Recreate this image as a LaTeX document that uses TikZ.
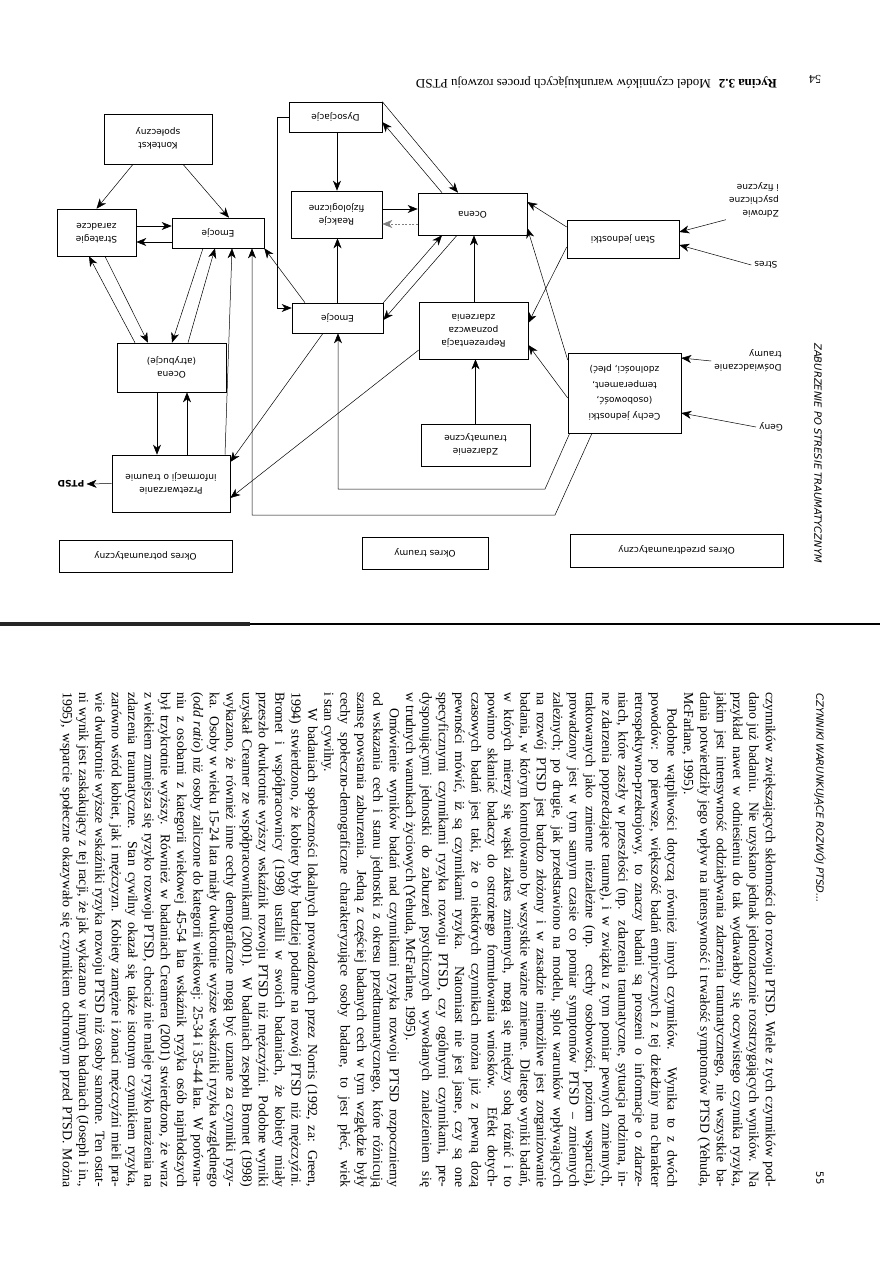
\documentclass[tikz,border=0pt]{standalone}
\usepackage{fontspec}
\setmainfont{Liberation Serif}
\setsansfont{DejaVu Sans}
\usepackage{graphicx}
\usetikzlibrary{arrows.meta}
\newcommand\udc[1]{\rotatebox{180}{\begin{tabular}{@{}c@{}}#1\end{tabular}}}
\newcommand\udl[1]{\rotatebox{180}{\begin{tabular}{@{}l@{}}#1\end{tabular}}}
\tikzset{
  box/.style={draw=black, line width=0.6pt, rectangle, inner sep=0pt,
    font=\sffamily\fontsize{9}{13}\selectfont},
  lbl/.style={inner sep=0pt, font=\sffamily\fontsize{9}{13}\selectfont},
  conn/.style={line width=0.5pt, -{Stealth[length=10pt,width=8pt,inset=3pt]}},
  hdr/.style={rotate=-90, anchor=west, inner sep=0pt, font=\sffamily\itshape\fontsize{10}{12}\selectfont},
}
\begin{document}
\begin{tikzpicture}[x=1pt,y=-1pt]
\fill[white] (0,0) rectangle (893,1263);
\useasboundingbox (0,0) rectangle (893,1263);

% ---------- page 54 (figure, upside down) ----------
\node[rotate=180, anchor=west, inner sep=0pt, font=\fontsize{13}{15}\selectfont] (capt) at (777,83)
  {\textbf{Rycina 3.2}\hspace{0.6em}Model czynników warunkujących proces rozwoju PTSD};
\node[rotate=180, inner sep=0pt, font=\fontsize{12}{14}\selectfont] (pg54) at (815,79) {54};
\node[hdr] (hdrL) at (818,343) {ZABURZENIE PO STRESIE TRAUMATYCZNYM};

\node[box, minimum width=108pt, minimum height=50pt] (kont) at (158,139) {\udc{Kontekst\\społeczny}};
\node[box, minimum width=79pt, minimum height=47pt] (strat) at (96.5,232.5) {\udc{Strategie\\zaradcze}};
\node[box, minimum width=92pt, minimum height=30pt] (emoL) at (218,233) {\udc{Emocje}};
\node[box, minimum width=109pt, minimum height=49pt] (ocA) at (171.5,367.5) {\udc{Ocena\\(atrybucje)}};
\node[box, minimum width=118pt, minimum height=57pt] (przet) at (171,483.5) {\udc{Przetwarzanie\\informacji o traumie}};
\node[inner sep=0pt, font=\sffamily\bfseries\fontsize{9}{11}\selectfont] (ptsd) at (71,484) {\rotatebox{180}{PTSD}};
\node[box, minimum width=173pt, minimum height=32pt] (okPo) at (145.5,556) {\udc{Okres potraumatyczny}};
\node[box, minimum width=126pt, minimum height=32pt] (okTr) at (425,553) {\udc{Okres traumy}};
\node[box, minimum width=213pt, minimum height=33pt] (okPrz) at (676.5,550.5) {\udc{Okres przedtraumatyczny}};
\node[box, minimum width=93pt, minimum height=30pt] (dys) at (335.5,117) {\udc{Dysocjacje}};
\node[box, minimum width=91pt, minimum height=47pt] (reak) at (336.5,214.5) {\udc{Reakcje\\fizjologiczne}};
\node[box, minimum width=91pt, minimum height=30pt] (emoM) at (337.5,318) {\udc{Emocje}};
\node[box, minimum width=109pt, minimum height=42pt] (ocM) at (472.5,214) {\udc{Ocena}};
\node[box, minimum width=112pt, minimum height=38pt] (stan) at (623,239) {\udc{Stan jednostki}};
\node[box, minimum width=109pt, minimum height=57pt] (repr) at (473.5,330.5) {\udc{Reprezentacja\\poznawcza\\zdarzenia}};
\node[box, minimum width=113pt, minimum height=80pt, font=\sffamily\fontsize{9}{15.5}\selectfont] (cechy) at (624.5,393)
  {\udc{Cechy jednostki\\(osobowość,\\temperament,\\zdolności, płeć)}};
\node[box, minimum width=109pt, minimum height=42pt] (zdarz) at (475.5,445) {\udc{Zdarzenie\\traumatyczne}};
\node[lbl] (zdrow) at (754,200) {\udl{Zdrowie\\psychiczne\\i fizyczne}};
\node[lbl] (stres) at (766,265) {\rotatebox{180}{Stres}};
\node[lbl] (dosw) at (748,361) {\udl{Doświadczanie\\traumy}};
\node[lbl] (geny) at (771,427) {\rotatebox{180}{Geny}};

\draw[conn] ([xshift=-25pt]kont.south) -- (strat.north);
\draw[conn] ([xshift=25pt]kont.south) -- ([xshift=11pt]emoL.north);
\draw[conn] ([yshift=6.5pt]strat.east) -- ([yshift=7pt]emoL.west);
\draw[conn] ([yshift=-9pt]emoL.west) -- ([yshift=-9.5pt]strat.east);
\draw[conn] ([xshift=-36.5pt]ocA.north) -- ([xshift=-7.5pt]strat.south);
\draw[conn] ([xshift=8.5pt]strat.south) -- ([xshift=-23.5pt]ocA.north);
\draw[conn] ([xshift=-15pt]emoL.south) -- ([xshift=0.5pt]ocA.north);
\draw[conn] ([xshift=16.5pt]ocA.north) -- ([xshift=-3pt]emoL.south);
\draw[conn] ([xshift=54pt]przet.north) -- ([xshift=14pt]emoL.south);
\coordinate (la) at (555,515); \coordinate (lb) at (252,515);
\draw[conn] ([xshift=-32.5pt]cechy.south) -- (la) -- (lb) -- ([xshift=34pt]emoL.south);
\coordinate (lc) at (545,489); \coordinate (ld) at (338,489);
\draw[conn] ([xshift=2pt]cechy.south west) -- (lc) -- (ld) -- ([xshift=0.5pt]emoM.south);
\draw[conn] ([xshift=-32.5pt]emoM.north) -- (emoL.south east);
\coordinate (da) at (277,117); \coordinate (db) at (277,308);
\draw[conn] (dys.west) -- (da) -- (db) -- ([yshift=10pt]emoM.west);
\draw[conn] ([xshift=1.5pt]dys.south) -- ([xshift=0.5pt]reak.north);
\draw[conn] (emoM.north) -- ([xshift=1pt]reak.south);
\draw[conn] ([xshift=-14.5pt]emoM.south) -- ([yshift=21.5pt]przet.east);
\draw[conn] ([yshift=-19.5pt]repr.west) -- ([yshift=-14.5pt]przet.east);
\draw[conn] (zdarz.north) -- ([xshift=2pt]repr.south);
\draw[conn] ([xshift=0.5pt]repr.north) -- ([xshift=1.5pt]ocM.south);
\draw[conn] ([yshift=5.5pt]reak.east) -- ([yshift=5pt]ocM.west);
\draw[conn, gray, dash pattern=on 2pt off 1.5pt] ([yshift=-10pt]ocM.west) -- ([yshift=-9.5pt]reak.east);
\draw[conn] (dys.north east) -- ([xshift=-14.5pt]ocM.north);
\draw[conn] ([xshift=-30.5pt]ocM.north) -- ([yshift=-5pt]dys.east);
\draw[conn] (emoM.north east) -- ([xshift=-30.5pt]ocM.south);
\draw[conn] ([xshift=-15.5pt]ocM.south) -- ([yshift=-2pt]emoM.east);
\draw[conn] ([yshift=12pt]stan.west) -- ([yshift=12pt]ocM.east);
\draw[conn] ([yshift=-8pt]stan.west) -- ([yshift=7.5pt]repr.east);
\draw[conn] ([xshift=-3pt]zdrow.south west) -- ([yshift=7pt]stan.east);
\draw[conn] ([xshift=-3pt]stres.west) -- ([yshift=-6pt]stan.east);
\draw[conn] ([yshift=33pt]cechy.west) -- ([yshift=-14pt]ocM.east);
\draw[conn] ([yshift=-5pt]cechy.west) -- ([yshift=-14.5pt]repr.east);
\draw[conn] ([xshift=-3pt]dosw.west) -- ([yshift=35pt]cechy.east);
\draw[conn] ([xshift=-3pt]geny.west) -- ([yshift=-20pt]cechy.east);
\draw[conn] (przet.west) -- ([xshift=2pt]ptsd.east);
\draw[conn] ([xshift=-14.5pt]ocA.south) -- ([xshift=-14pt]przet.north);
\draw[conn] ([xshift=16pt]przet.north) -- ([xshift=15.5pt]ocA.south);

% ---------- gutter ----------
\fill[black!85] (0,621.5) rectangle (250,625.5);
\fill[black] (250,622.5) rectangle (880,625);

% ---------- page 55 (text, rotated) ----------
\node[hdr] (hdrR) at (820,693) {CZYNNIKI WARUNKUJĄCE ROZWÓJ PTSD...};
\node[rotate=-90, inner sep=0pt, font=\sffamily\fontsize{10}{12}\selectfont] (pg55) at (820,1178) {55};
\node[rotate=-90, anchor=north west, inner sep=0pt, font=\fontsize{13.8}{16.4}\selectfont] (body) at (776,692) {\vbox{\hsize=495pt\baselineskip=16.35pt\lineskiplimit=-20pt\lineskip=0pt
\spaceskip=0.25em plus 0.35em minus 0.13em
\hbox to 495pt{\rule{0pt}{10pt}czynników zwiększających skłonności do rozwoju PTSD. Wiele z tych czynników pod-}
\hbox to 495pt{dano już badaniu. Nie uzyskano jednak jednoznacznie rozstrzygających wyników. Na}
\hbox to 495pt{przykład nawet w odniesieniu do tak wydawałoby się oczywistego czynnika ryzyka,}
\hbox to 495pt{jakim jest intensywność oddziaływania zdarzenia traumatycznego, nie wszystkie ba-}
\hbox to 495pt{dania potwierdziły jego wpływ na intensywność i trwałość symptomów PTSD (Yehuda,}
\hbox{McFarlane, 1995).}
\hbox to 495pt{\hskip 16pt Podobne wątpliwości dotyczą również innych czynników. Wynika to z dwóch}
\hbox to 495pt{powodów: po pierwsze, większość badań empirycznych z tej dziedziny ma charakter}
\hbox to 495pt{retrospektywno-przekrojowy, to znaczy badani są proszeni o informacje o zdarze-}
\hbox to 495pt{niach, które zaszły w przeszłości (np. zdarzenia traumatyczne, sytuacja rodzinna, in-}
\hbox to 495pt{ne zdarzenia poprzedzające traumę), i w związku z tym pomiar pewnych zmiennych,}
\hbox to 495pt{traktowanych jako zmienne niezależne (np. cechy osobowości, poziom wsparcia),}
\hbox to 495pt{prowadzony jest w tym samym czasie co pomiar symptomów PTSD – zmiennych}
\hbox to 495pt{zależnych; po drugie, jak przedstawiono na modelu, splot warunków wpływających}
\hbox to 495pt{na rozwój PTSD jest bardzo złożony i w zasadzie niemożliwe jest zorganizowanie}
\hbox to 495pt{badania, w którym kontrolowano by wszystkie ważne zmienne. Dlatego wyniki badań,}
\hbox to 495pt{w których mierzy się wąski zakres zmiennych, mogą się między sobą różnić i to}
\hbox to 495pt{powinno skłaniać badaczy do ostrożnego formułowania wniosków. Efekt dotych-}
\hbox to 495pt{czasowych badań jest taki, że o niektórych czynnikach można już z pewną dozą}
\hbox to 495pt{pewności mówić, iż są czynnikami ryzyka. Natomiast nie jest jasne, czy są one}
\hbox to 495pt{specyficznymi czynnikami ryzyka rozwoju PTSD, czy ogólnymi czynnikami, pre-}
\hbox to 495pt{dysponującymi jednostki do zaburzeń psychicznych wywołanych znalezieniem się}
\hbox{w trudnych warunkach życiowych (Yehuda, McFarlane, 1995).}
\hbox to 495pt{\hskip 16pt Omówienie wyników badań nad czynnikami ryzyka rozwoju PTSD rozpoczniemy}
\hbox to 495pt{od wskazania cech i stanu jednostki z okresu przedtraumatycznego, które różnicują}
\hbox to 495pt{szansę powstania zaburzenia. Jedną z częściej badanych cech w tym względzie były}
\hbox to 495pt{cechy społeczno-demograficzne charakteryzujące osoby badane, to jest płeć, wiek}
\hbox{i stan cywilny.}
\hbox to 495pt{\hskip 16pt W badaniach społeczności lokalnych prowadzonych przez Norris (1992, za: Green,}
\hbox to 495pt{1994) stwierdzono, że kobiety były bardziej podatne na rozwój PTSD niż mężczyźni.}
\hbox to 495pt{Bromet i współpracownicy (1998) ustalili w swoich badaniach, że kobiety miały}
\hbox to 495pt{przeszło dwukrotnie wyższy wskaźnik rozwoju PTSD niż mężczyźni. Podobne wyniki}
\hbox to 495pt{uzyskał Creamer ze współpracownikami (2001). W badaniach zespołu Bromet (1998)}
\hbox to 495pt{wykazano, że również inne cechy demograficzne mogą być uznane za czynniki ryzy-}
\hbox to 495pt{ka. Osoby w wieku 15-24 lata miały dwukrotnie wyższe wskaźniki ryzyka względnego}
\hbox to 495pt{(\textit{odd ratio}) niż osoby zaliczone do kategorii wiekowej: 25-34 i 35-44 lata. W porówna-}
\hbox to 495pt{niu z osobami z kategorii wiekowej 45-54 lata wskaźnik ryzyka osób najmłodszych}
\hbox to 495pt{był trzykrotnie wyższy. Również w badaniach Creamera (2001) stwierdzono, że wraz}
\hbox to 495pt{z wiekiem zmniejsza się ryzyko rozwoju PTSD, chociaż nie maleje ryzyko narażenia na}
\hbox to 495pt{zdarzenia traumatyczne. Stan cywilny okazał się także istotnym czynnikiem ryzyka,}
\hbox to 495pt{zarówno wśród kobiet, jak i mężczyzn. Kobiety zamężne i żonaci mężczyźni mieli pra-}
\hbox to 495pt{wie dwukrotnie wyższe wskaźniki ryzyka rozwoju PTSD niż osoby samotne. Ten ostat-}
\hbox to 495pt{ni wynik jest zaskakujący z tej racji, że jak wykazano w innych badaniach (Joseph i in.,}
\hbox to 495pt{1995), wsparcie społeczne okazywało się czynnikiem ochronnym przed PTSD. Można}
}};
\end{tikzpicture}
\end{document}
